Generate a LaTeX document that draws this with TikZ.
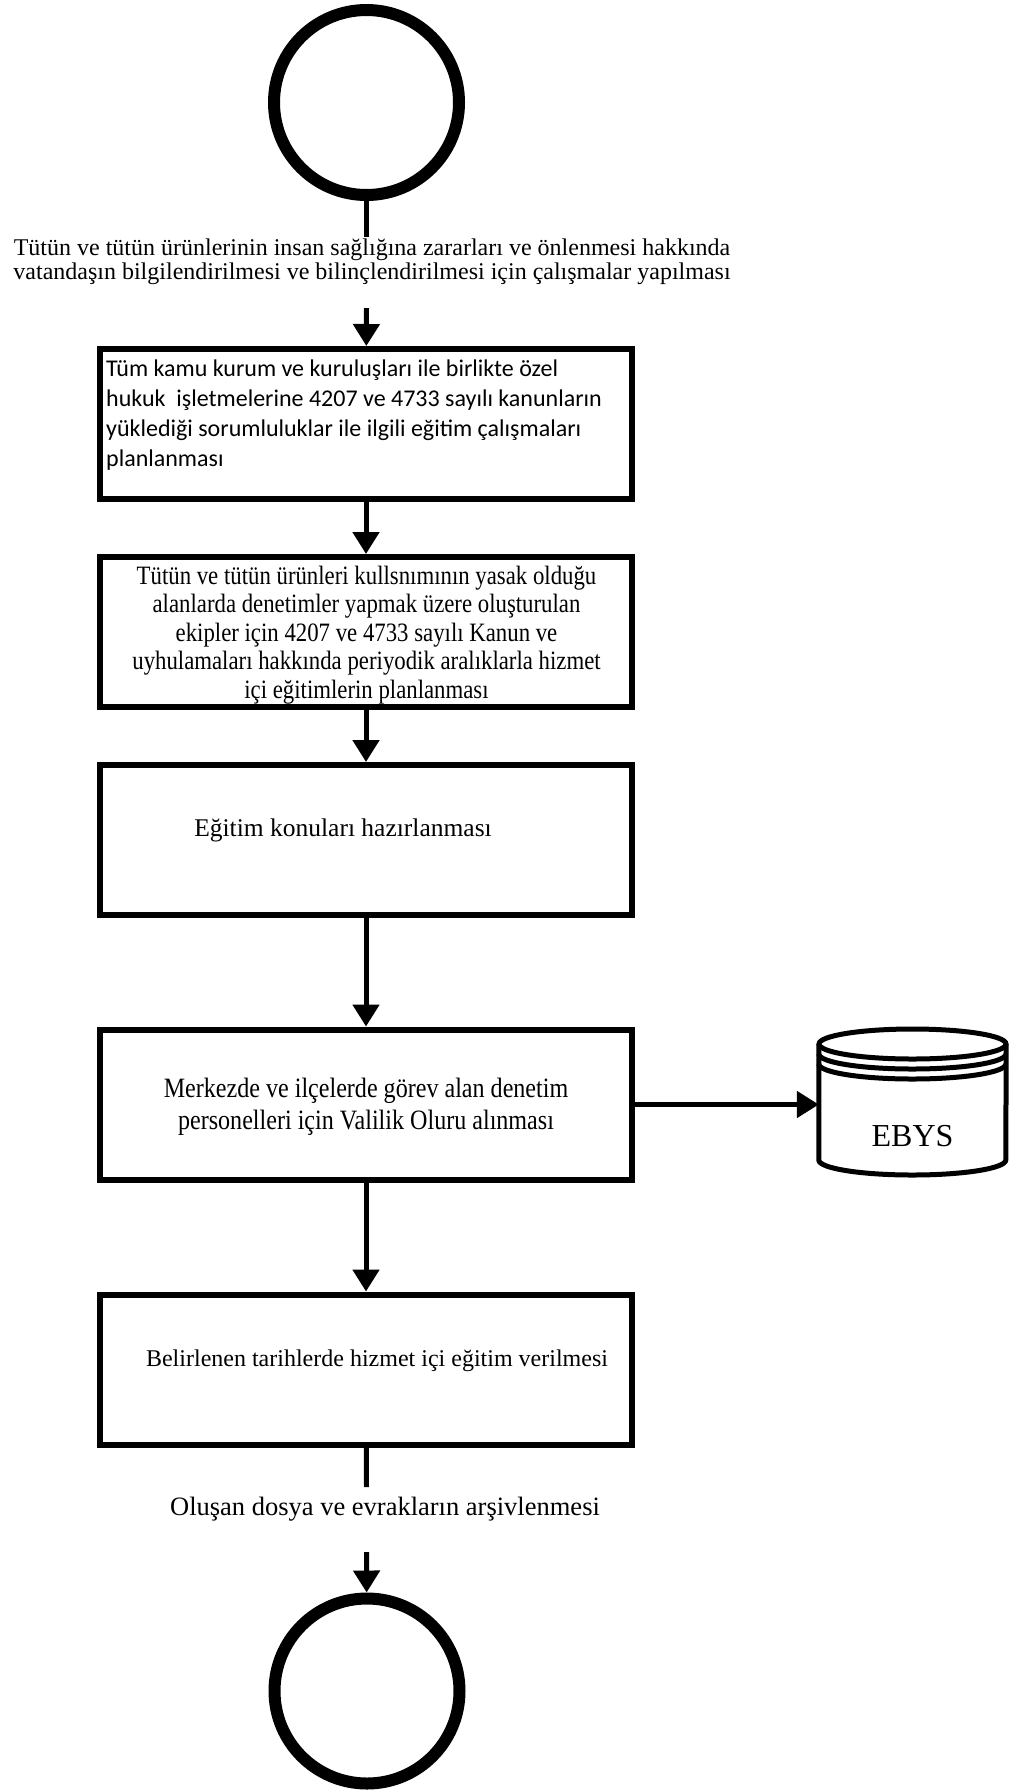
\documentclass[tikz,border=0pt]{standalone}
\usepackage{fontspec}
\setmainfont{Liberation Serif}
\newfontfamily\calibfont{Carlito}
\newfontfamily\narrowserif[FakeStretch=0.86]{Liberation Serif}
\usetikzlibrary{arrows.meta}

\begin{document}
\begin{tikzpicture}[x=1pt,y=-1pt,
		box/.style={draw, line width=6pt, minimum width=532pt, minimum height=150pt, inner sep=0pt},
		term/.style={draw, circle, line width=12pt, minimum size=185pt, inner sep=0pt},
		line/.style={line width=5pt},
		arrow/.style={line width=5pt, -{Triangle[width=26pt,length=22pt]}},
		txt/.style={font=\fontsize{24}{31}\selectfont, align=center, inner sep=0pt}]
			
			\useasboundingbox (0,0) rectangle (1020,1792);
			
			%--- Başlangıç ---
			\node[term] (start) at (366.5,102.5) {};
			\node[txt, font=\fontsize{24}{24}\selectfont] (intro) at (372,262)
				{Tütün ve tütün ürünlerinin insan sağlığına zararları ve önlenmesi hakkında\\
				vatandaşın bilgilendirilmesi ve bilinçlendirilmesi için çalışmalar yapılması};
			\coordinate (c1) at (366.5,237);
			\coordinate (c2) at (366.5,308);
			
			%--- Kutular ---
			\node[box] (b1) at (366,424) {};
			\node[anchor=north west, align=left, inner sep=0pt, font=\calibfont\fontsize{24}{30}\selectfont] (b1t) at (106,360)
				{Tüm kamu kurum ve kuruluşları ile birlikte özel\\
				hukuk\ \ işletmelerine 4207 ve 4733 sayılı kanunların\\
				yüklediği sorumluluklar ile ilgili eğitim çalışmaları\\
				planlanması};
			
			\node[box] (b2) at (366,632) {};
			\node[txt, font=\narrowserif\fontsize{26.5}{28.5}\selectfont] (b2t) at (366.5,635)
				{Tütün ve tütün ürünleri kullsnımının yasak olduğu\\
				alanlarda denetimler yapmak üzere oluşturulan\\
				ekipler için 4207 ve 4733 sayılı Kanun ve\\
				uyhulamaları hakkında periyodik aralıklarla hizmet\\
				içi eğitimlerin planlanması};
			
			\node[box] (b3) at (366,840) {};
			\node[txt, font=\fontsize{25.5}{31}\selectfont] (b3t) at (343,830) {Eğitim konuları hazırlanması};
			
			\node[box] (b4) at (366,1104.5) {};
			\node[txt, font=\narrowserif\fontsize{28}{32}\selectfont] (b4t) at (366,1107)
				{Merkezde ve ilçelerde görev alan denetim\\
				personelleri için Valilik Oluru alınması};
			
			\node[box] (b5) at (366,1369.5) {};
			\node[txt] (b5t) at (377,1361) {Belirlenen tarihlerde hizmet içi eğitim verilmesi};
			
			%--- EBYS ---
			\node[inner sep=0pt, minimum width=187pt, font=\fontsize{32}{32}\selectfont] (ebys) at (912.5,1136) {EBYS};
			\draw[line] (ebys.west |- 0,1044) -- (ebys.west |- 0,1160)
				arc[start angle=180, end angle=360, x radius=93.5pt, y radius=15pt]
				-- (ebys.east |- 0,1044);
			\draw[line] (912.5,1044) ellipse [x radius=93.5pt, y radius=15pt];
			\draw[line] (ebys.west |- 0,1054) arc[start angle=180, end angle=360, x radius=93.5pt, y radius=15pt];
			\draw[line] (ebys.west |- 0,1064) arc[start angle=180, end angle=360, x radius=93.5pt, y radius=15pt];
			
			%--- Bitiş ---
			\node[txt, font=\fontsize{26.5}{26}\selectfont] (arsiv) at (385,1509) {Oluşan dosya ve evrakların arşivlenmesi};
			\coordinate (c3) at (366.5,1487);
			\coordinate (c4) at (366.5,1552);
			\node[term] (end) at (367,1691) {};
			
			%--- Oklar ---
			\draw[line] (start) -- (c1);
			\draw[arrow] (c2) -- (b1);
			\draw[arrow] (b1) -- (b2);
			\draw[arrow] (b2) -- (b3);
			\draw[arrow] (b3) -- (b4);
			\draw[arrow] (b4) -- (b4 -| ebys.west);
			\draw[arrow] (b4) -- (b5);
			\draw[line] (b5) -- (c3);
			\draw[arrow] (c4) -- (end);
			
		\end{tikzpicture}
\end{document}
